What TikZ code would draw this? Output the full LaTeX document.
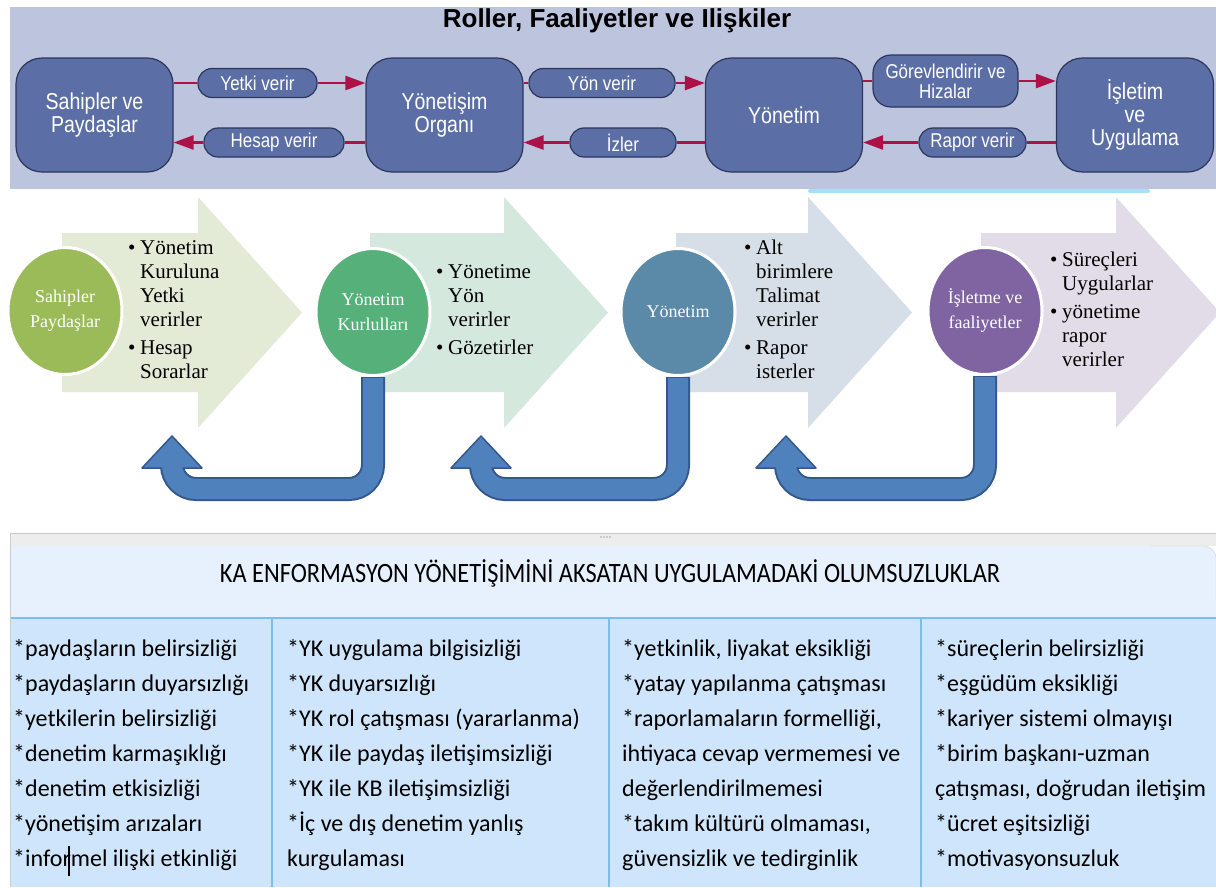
\documentclass[tikz,border=0pt]{standalone}
\usepackage{fontspec}
\setmainfont{Liberation Serif}
\newfontfamily\boxfont[FakeStretch=0.85]{Liberation Sans}
\newfontfamily\headsans{Liberation Sans}
\newfontfamily\listfont{Carlito}
\newfontfamily\capfont[FakeStretch=0.87]{Carlito}
\usetikzlibrary{arrows.meta,shapes.geometric,calc}

\definecolor{bandbg}{RGB}{189,196,222}
\definecolor{boxfill}{RGB}{91,111,166}
\definecolor{boxline}{RGB}{44,54,92}
\definecolor{linkred}{RGB}{172,18,72}
\definecolor{arrA}{RGB}{227,234,214}
\definecolor{arrB}{RGB}{213,232,221}
\definecolor{arrC}{RGB}{214,223,231}
\definecolor{arrD}{RGB}{226,220,232}
\definecolor{circA}{RGB}{155,187,89}
\definecolor{circB}{RGB}{86,176,122}
\definecolor{circC}{RGB}{91,137,168}
\definecolor{circD}{RGB}{128,100,162}
\definecolor{uturn}{RGB}{79,129,189}
\definecolor{uturnline}{RGB}{52,88,140}
\definecolor{hdrbg}{RGB}{230,241,253}
\definecolor{tblbg}{RGB}{206,229,251}
\definecolor{tblline}{RGB}{120,190,242}
\definecolor{stripbg}{RGB}{170,222,248}

\newcommand{\bitem}[1]{\makebox[12pt][l]{\textbullet}#1}
\newcommand{\bcont}[1]{\hspace*{12pt}#1}

\begin{document}
\begin{tikzpicture}[x=1pt,y=-1pt,
  role/.style={draw=boxline, line width=1.2pt, fill=boxfill, rounded corners=26pt,
     minimum width=157pt, minimum height=114pt, align=center, text=white,
     font=\boxfont\fontsize{23}{23}\selectfont, inner sep=0pt},
  pill/.style={draw=boxline, line width=1.2pt, fill=boxfill, rounded corners=14pt,
     minimum height=29pt, align=center, text=white, inner sep=0pt,
     font=\boxfont\fontsize{20}{20}\selectfont},
  link/.style={draw=linkred, line width=2.5pt},
  linkarrow/.style={link, -{Triangle[length=20pt,width=14pt]}},
  disc/.style={ellipse, draw=white, line width=3pt, minimum width=114pt, minimum height=127pt,
     text=white, align=center, font=\fontsize{18}{25}\selectfont, inner sep=0pt},
  steps/.style={anchor=north west, align=left, inner sep=0pt, font=\fontsize{21}{24}\selectfont},
  col/.style={anchor=north west, align=left, inner sep=0pt, font=\listfont\fontsize{24}{35}\selectfont},
  ushaft/.style={line width=24pt, draw=uturnline, rounded corners=24pt},
  ufill/.style={line width=20pt, draw=uturn, rounded corners=24pt},
  uhead/.style={fill=uturn, draw=uturnline, line width=1.5pt, line join=round},
]
\useasboundingbox (0,0) rectangle (1216,887);
\fill[white] (0,0) rectangle (1216,887);

% ---------- upper band: roles and relations ----------
\fill[bandbg] (10,7) rectangle (1216,189);
\fill[stripbg, rounded corners=2pt] (808,189) rectangle (1150,193);
\node[font=\headsans\bfseries\fontsize{26}{26}\selectfont] (title) at (617,21) {Roller, Faaliyetler ve Ilişkiler};

\node[role] (b1) at (94.5,115) {Sahipler ve\\Paydaşlar};
\node[role] (b2) at (444.5,115) {Yönetişim\\Organı};
\node[role] (b3) at (784,115) {Yönetim};
\node[role] (b4) at (1135,115) {İşletim\\ve\\Uygulama};

\node[pill, minimum width=119pt] (p1) at (257.5,83) {Yetki verir};
\node[pill, minimum width=140pt] (p2) at (274,142.5) {Hesap verir};
\node[pill, minimum width=146pt] (p3) at (602,83) {Yön verir};
\node[pill, minimum width=106pt] (p4) at (623,142.5) {İzler};
\node[pill, minimum width=145pt, minimum height=52pt, rounded corners=18pt,
      font=\boxfont\fontsize{20}{20}\selectfont] (p5) at (945.5,81) {Görevlendirir ve\\Hizalar};
\node[pill, minimum width=107pt] (p6) at (972.5,142.5) {Rapor verir};

\draw[link] (b1.east |- p1.center) -- (p1.west);
\draw[linkarrow] (p1.east) -- (b2.west |- p1.center);
\draw[link] (b2.west |- p2.center) -- (p2.east);
\draw[linkarrow] (p2.west) -- (b1.east |- p2.center);
\draw[link] (b2.east |- p3.center) -- (p3.west);
\draw[linkarrow] (p3.east) -- (b3.west |- p3.center);
\draw[link] (b3.west |- p4.center) -- (p4.east);
\draw[linkarrow] (p4.west) -- (b2.east |- p4.center);
\draw[link] (b3.east |- p5.center) -- (p5.west);
\draw[linkarrow] (p5.east) -- (b4.west |- p5.center);
\draw[link] (b4.west |- p6.center) -- (p6.east);
\draw[linkarrow] (p6.west) -- (b3.east |- p6.center);

% ---------- middle: block arrows with discs ----------
\foreach \L/\B/\T/\c in {62/198/302/arrA, 370/504/608/arrB, 676/808/912/arrC, 981/1116/1220/arrD}
  \fill[\c] (\L,233) -- (\B,233) -- (\B,197) -- (\T,312.5) -- (\B,428) -- (\B,392) -- (\L,392) -- cycle;

\node[disc, fill=circA] (c1) at (65,311) {Sahipler\\Paydaşlar};
\node[disc, fill=circB] (c2) at (373,312) {Yönetim\\Kurlulları};
\node[disc, fill=circC] (c3) at (678,312) {Yönetim};
\node[disc, fill=circD] (c4) at (985,311) {İşletme ve\\faaliyetler};

% tips of the returning arrows
\coordinate (h1) at (172,436);
\coordinate (h2) at (481,436);
\coordinate (h3) at (786,436);

\foreach \src/\tip in {c2/h1, c3/h2, c4/h3}{
  \draw[ushaft] (\src.south) |- ($(\tip)+(0,53)$) -- ($(\tip)+(0,26)$);
  \filldraw[uhead] (\tip) -- ($(\tip)+(30,32)$) -- ($(\tip)+(-30,32)$) -- cycle;
  \draw[ufill] ($(\src.south)+(0,1)$) |- ($(\tip)+(0,53)$) -- ($(\tip)+(0,28)$);
}

\node[steps] (t1) at (128,240) {\bitem{Yönetim}\\\bcont{Kuruluna}\\\bcont{Yetki}\\\bcont{verirler}\\[4pt]\bitem{Hesap}\\\bcont{Sorarlar}};
\node[steps] (t2) at (436,264) {\bitem{Yönetime}\\\bcont{Yön}\\\bcont{verirler}\\[4pt]\bitem{Gözetirler}};
\node[steps] (t3) at (744,240) {\bitem{Alt}\\\bcont{birimlere}\\\bcont{Talimat}\\\bcont{verirler}\\[4pt]\bitem{Rapor}\\\bcont{isterler}};
\node[steps] (t4) at (1050,252) {\bitem{Süreçleri}\\\bcont{Uygularlar}\\[4pt]\bitem{yönetime}\\\bcont{rapor}\\\bcont{verirler}};

% ---------- lower panel: list of problems ----------
\fill[black!7] (10,533) rectangle (1216,546);
\draw[black!22] (10,533) -- (1216,533);
\foreach \dx in {0,3,6,9}
  \fill[black!35] (601+\dx,537) circle (0.8pt);
\fill[hdrbg] (10,546) [rounded corners=12pt] -- (1216,546) [sharp corners] -- (1216,618) -- (10,618) -- cycle;
\draw[black!18] (1150,546) [rounded corners=12pt] -- (1216,546) [sharp corners] -- (1216,600);
\node[font=\capfont\fontsize{28}{28}\selectfont] (hdr) at (610,573)
  {KA ENFORMASYON YÖNETİŞİMİNİ AKSATAN UYGULAMADAKİ OLUMSUZLUKLAR};

\fill[tblbg] (10,618) rectangle (1216,887);
\draw[tblline, line width=2pt] (10,618) -- (1216,618);
\foreach \vx in {272,609,921}
  \draw[tblline, line width=1.5pt] (\vx,618) -- (\vx,887);
\draw[black!20] (10,533) -- (10,887);

\node[col] (k1) at (13,639) {*paydaşların belirsizliği\\*paydaşların duyarsızlığı\\*yetkilerin belirsizliği\\*denetim karmaşıklığı\\*denetim etkisizliği\\*yönetişim arızaları\\*informel ilişki etkinliği};
\node[col] (k2) at (287,639) {*YK uygulama bilgisizliği\\*YK duyarsızlığı\\*YK rol çatışması (yararlanma)\\*YK ile paydaş iletişimsizliği\\*YK ile KB iletişimsizliği\\*İç ve dış denetim yanlış\\kurgulaması};
\node[col] (k3) at (622,639) {*yetkinlik, liyakat eksikliği\\*yatay yapılanma çatışması\\*raporlamaların formelliği,\\ihtiyaca cevap vermemesi ve\\değerlendirilmemesi\\*takım kültürü olmaması,\\güvensizlik ve tedirginlik};
\node[col] (k4) at (935,639) {*süreçlerin belirsizliği\\*eşgüdüm eksikliği\\*kariyer sistemi olmayışı\\*birim başkanı-uzman\\çatışması, doğrudan iletişim\\*ücret eşitsizliği\\*motivasyonsuzluk};
% text cursor left in the first column
\draw[line width=1.3pt] (69,846) -- (69,876);
\end{tikzpicture}
\end{document}
